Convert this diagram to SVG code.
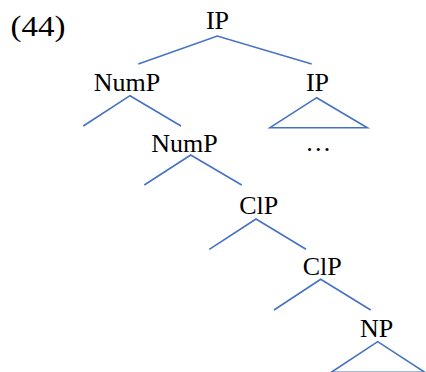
<svg xmlns="http://www.w3.org/2000/svg" width="426" height="372" viewBox="0 0 426 372">
<style>
.t{font-family:"Liberation Serif","Times New Roman",serif;font-size:26px;fill:#000;text-anchor:middle}
.e{fill:none;stroke:#4472C4;stroke-width:1.6;stroke-linejoin:miter}
</style>
<rect width="426" height="372" fill="#fff"/>
<text x="10.5" y="36" font-family="Liberation Serif, serif" font-size="30" textLength="55" lengthAdjust="spacingAndGlyphs">(44)</text>
<g id="connectors">
<polyline class="e" points="138.3,64 217.3,36 311.7,64"/>
<polyline class="e" points="83.3,126 130,95.7 181,126"/>
<polygon class="e" points="270,127.7 316.7,97.7 367.3,127.7"/>
<polyline class="e" points="144.3,185 190.7,155 241.7,185"/>
<polyline class="e" points="209.3,249.3 256,219 306,249.3"/>
<polyline class="e" points="274,310 320.7,279.3 370.7,310"/>
<polygon class="e" points="331.7,372 377.7,341.7 425,372.4"/>
</g>
<g id="n-ip"><text class="t" x="217.5" y="29.3">IP</text></g>
<g id="n-nump1"><text class="t" x="127" y="90.7">NumP</text></g>
<g id="n-ip2"><text class="t" x="317.5" y="90.7">IP</text></g>
<g id="n-dots"><text class="t" x="318.3" y="150.7">…</text></g>
<g id="n-nump2"><text class="t" x="184.5" y="151.7">NumP</text></g>
<g id="n-clp1"><text class="t" x="258.8" y="214.3">ClP</text></g>
<g id="n-clp2"><text class="t" x="322.2" y="275">ClP</text></g>
<g id="n-np"><text class="t" x="376.7" y="336.7">NP</text></g>
</svg>
